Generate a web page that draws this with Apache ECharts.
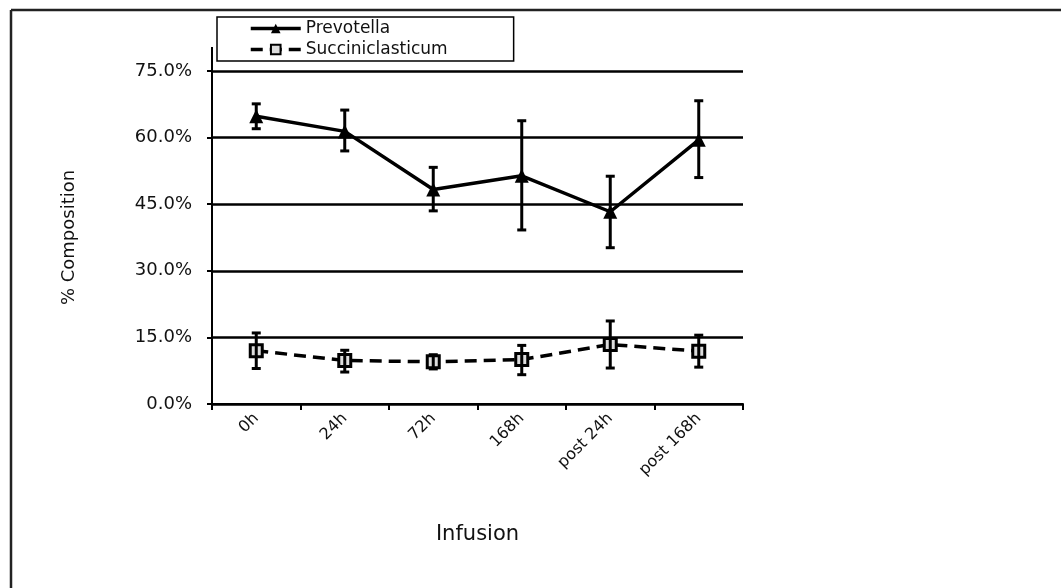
<!DOCTYPE html>
<html>
<head>
<meta charset="utf-8">
<script src="https://cdn.jsdelivr.net/npm/echarts@6/dist/echarts.min.js"></script>
<style>
  html, body { margin: 0; padding: 0; background: #fff; }
  #chart { width: 1061px; height: 588px; }
</style>
</head>
<body>
<div id="chart"></div>
<script>
var categories = ['0h', '24h', '72h', '168h', 'post 24h', 'post 168h'];
var yTicks = [0, 15, 30, 45, 60, 75];

var prevotella = [64.8, 61.4, 48.3, 51.4, 43.3, 59.5];
var prevotellaLow = [62.0, 57.0, 43.5, 39.2, 35.2, 51.0];
var prevotellaHigh = [67.6, 66.2, 53.3, 63.8, 51.3, 68.3];

var succ = [12.0, 9.8, 9.5, 10.0, 13.4, 11.9];
var succLow = [8.0, 7.2, 7.9, 6.6, 8.1, 8.3];
var succHigh = [16.0, 12.1, 11.1, 13.2, 18.7, 15.5];

var font = 'DejaVu Sans';

document.addEventListener("DOMContentLoaded", function() {
  var chart = echarts.init(document.getElementById('chart'));

  function errData(low, high) {
    var out = [];
    for (var i = 0; i < low.length; i++) {
      out.push([i, low[i], high[i]]);
    }
    return out;
  }

  function renderError(params, api) {
    var i = api.value(0);
    var lo = api.coord([i, api.value(1)]);
    var hi = api.coord([i, api.value(2)]);
    var cap = 4.5;
    var style = { stroke: '#000', lineWidth: 3 };
    return {
      type: 'group',
      children: [
        { type: 'line', shape: { x1: lo[0], y1: lo[1], x2: hi[0], y2: hi[1] }, style: style },
        { type: 'line', shape: { x1: lo[0] - cap, y1: lo[1], x2: lo[0] + cap, y2: lo[1] }, style: style },
        { type: 'line', shape: { x1: hi[0] - cap, y1: hi[1], x2: hi[0] + cap, y2: hi[1] }, style: style }
      ]
    };
  }

  var option = {
    backgroundColor: '#fff',
    animation: false,
    grid: { left: 212, right: 318, top: 71, bottom: 184 },
    legend: {
      left: 217,
      top: 17,
      orient: 'vertical',
      data: ['Prevotella', 'Succiniclasticum'],
      itemWidth: 50,
      itemHeight: 12,
      itemGap: 4,
      padding: [3, 66, 3, 32],
      borderColor: '#000',
      borderWidth: 1.5,
      borderRadius: 0,
      lineStyle: { width: 3.5 },
      textStyle: { fontFamily: font, fontSize: 17, color: '#111' }
    },
    graphic: [
      { type: 'line', shape: { x1: 11, y1: 10, x2: 11, y2: 588 }, style: { stroke: '#222', lineWidth: 2.5 } },
      { type: 'line', shape: { x1: 11, y1: 10, x2: 1061, y2: 10 }, style: { stroke: '#222', lineWidth: 2.5 } },
      { type: 'line', shape: { x1: 212, y1: 47, x2: 212, y2: 71 }, style: { stroke: '#000', lineWidth: 2 } }
    ],
    xAxis: {
      type: 'category',
      data: categories,
      boundaryGap: true,
      name: 'Infusion',
      nameLocation: 'middle',
      nameGap: 120,
      nameTextStyle: { fontFamily: font, fontSize: 21, color: '#111' },
      axisLine: { lineStyle: { color: '#000', width: 2 } },
      axisTick: { show: true, length: 6, lineStyle: { color: '#000', width: 2 } },
      axisLabel: { rotate: 45, margin: 12, fontFamily: font, fontSize: 16, color: '#111' },
      splitLine: { show: false }
    },
    yAxis: {
      type: 'value',
      min: 0,
      max: 75,
      interval: 15,
      name: '% Composition',
      nameLocation: 'middle',
      nameGap: 134,
      nameTextStyle: { fontFamily: font, fontSize: 18, color: '#111' },
      axisLine: { show: true, lineStyle: { color: '#000', width: 2 } },
      axisTick: { show: true, length: 5, lineStyle: { color: '#000', width: 2 } },
      axisLabel: {
        margin: 20,
        fontFamily: font,
        fontSize: 18,
        color: '#111',
        formatter: function(v) { return v.toFixed(1) + '%'; }
      },
      splitLine: { show: true, lineStyle: { color: '#000', width: 2.5 } }
    },
    series: [
      {
        name: 'Prevotella',
        type: 'line',
        data: prevotella,
        symbol: 'triangle',
        symbolSize: 14,
        itemStyle: { color: '#000' },
        lineStyle: { color: '#000', width: 3.5 },
        z: 3
      },
      {
        name: 'Succiniclasticum',
        type: 'line',
        data: succ,
        symbol: 'rect',
        symbolSize: 12,
        itemStyle: { color: '#ddd', borderColor: '#000', borderWidth: 3 },
        lineStyle: { color: '#000', width: 3.5, type: [12, 7] },
        z: 3
      },
      {
        name: 'errP',
        type: 'custom',
        renderItem: renderError,
        data: errData(prevotellaLow, prevotellaHigh),
        z: 4
      },
      {
        name: 'errS',
        type: 'custom',
        renderItem: renderError,
        data: errData(succLow, succHigh),
        z: 4
      }
    ]
  };

  chart.setOption(option);
});
</script>
</body>
</html>
